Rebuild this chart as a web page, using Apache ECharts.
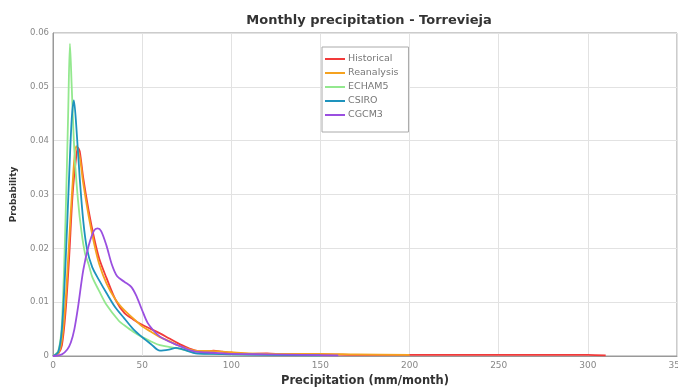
<!DOCTYPE html>
<html>
<head>
<meta charset="utf-8">
<script src="https://cdn.jsdelivr.net/npm/echarts@6/dist/echarts.min.js"></script>
<style>
  html, body { margin: 0; padding: 0; background: #fff; }
  #main { width: 678px; height: 389px; }
</style>
</head>
<body>
<div id="main"></div>
<script>
// series names
var seriesNames = ['Historical', 'Reanalysis', 'ECHAM5', 'CSIRO', 'CGCM3'];

// [precipitation, probability]
var historical = [[0,0],[3,0.0005],[5,0.002],[7,0.008],[9,0.018],[11,0.030],[13,0.037],[14,0.0387],[15,0.038],[17,0.033],[20,0.027],[23,0.022],[26,0.018],[30,0.0145],[35,0.0105],[40,0.008],[45,0.0068],[50,0.0058],[55,0.005],[60,0.0042],[65,0.0033],[70,0.0024],[75,0.0016],[80,0.001],[85,0.0008],[90,0.001],[95,0.0008],[100,0.0006],[110,0.0004],[120,0.0005],[130,0.0003],[150,0.0003],[170,0.0002],[200,0.0002],[230,0.0002],[250,0.0002],[270,0.0002],[300,0.0002],[310,0.0001]];
var reanalysis = [[0,0],[3,0.0005],[5,0.003],[7,0.010],[9,0.021],[11,0.032],[13,0.039],[15,0.037],[17,0.032],[20,0.026],[23,0.021],[26,0.017],[30,0.0135],[35,0.0105],[40,0.0085],[45,0.007],[50,0.0055],[55,0.0045],[60,0.0035],[65,0.0028],[70,0.002],[75,0.0014],[80,0.001],[90,0.0009],[100,0.0007],[110,0.0005],[130,0.0004],[150,0.0004],[170,0.0003],[200,0.0002]];
var echam5 = [[0,0],[3,0.001],[5,0.006],[7,0.025],[8.5,0.045],[9.5,0.058],[10.5,0.05],[12,0.038],[14,0.029],[16,0.023],[18,0.019],[20,0.017],[22,0.0147],[26,0.012],[30,0.0095],[37,0.0065],[40,0.0057],[45,0.0045],[50,0.0035],[55,0.0027],[60,0.002],[65,0.0017],[70,0.0014],[75,0.001],[80,0.0006],[90,0.0004],[100,0.0003],[120,0.0002],[150,0.0001]];
var csiro = [[0,0],[3,0.0008],[5,0.005],[7,0.017],[9,0.033],[10.5,0.044],[11.7,0.0475],[13,0.043],[15,0.033],[17,0.025],[19,0.020],[22,0.0165],[26,0.014],[30,0.0117],[35,0.009],[40,0.007],[45,0.005],[50,0.0035],[55,0.0022],[60,0.001],[65,0.0012],[69,0.0015],[75,0.001],[80,0.0005],[90,0.0004],[100,0.0003],[120,0.0002],[150,0.0001]];
var cgcm3 = [[0,0],[5,0.0003],[8,0.0012],[10,0.0025],[12,0.005],[14,0.009],[17,0.016],[20,0.0205],[23,0.0233],[25,0.0237],[27,0.0232],[30,0.0205],[33,0.017],[36,0.0148],[40,0.0138],[44,0.0128],[47,0.011],[50,0.0085],[53,0.0062],[57,0.0045],[60,0.0036],[65,0.0027],[70,0.002],[75,0.0013],[80,0.0008],[90,0.0006],[100,0.0004],[120,0.0003],[140,0.0002],[160,0.0001]];

var allData = [historical, reanalysis, echam5, csiro, cgcm3];
var colors = ['#f23a3a', '#f5a21f', '#93e88e', '#1e93bd', '#9a4fe0'];

var chart = echarts.init(document.getElementById('main'));

var series = seriesNames.map(function (name, i) {
    return {
        name: name,
        type: 'line',
        data: allData[i],
        smooth: 0.3,
        showSymbol: false,
        lineStyle: { width: 1.8, color: colors[i] },
        itemStyle: { color: colors[i] }
    };
});

chart.setOption({
    backgroundColor: '#ffffff',
    animation: false,
    title: {
        text: 'Monthly precipitation - Torrevieja',
        left: 364,
        textAlign: 'center',
        top: 9,
        textStyle: { fontSize: 13, fontWeight: 'bold', color: '#333', fontFamily: 'DejaVu Sans' }
    },
    legend: {
        orient: 'vertical',
        left: 322,
        top: 47,
        data: seriesNames,
        icon: 'rect',
        itemWidth: 20,
        itemHeight: 2,
        itemGap: 4,
        padding: [7, 10, 12, 3],
        borderColor: '#aaa',
        borderWidth: 1,
        backgroundColor: '#fff',
        textStyle: { fontSize: 9.5, lineHeight: 10, color: '#777', fontFamily: 'DejaVu Sans', padding: [0, 0, 0, -2] }
    },
    grid: {
        left: 53, right: 1, top: 33, bottom: 33,
        outerBoundsMode: 'none',
        show: true, borderColor: '#999', borderWidth: 1
    },
    xAxis: {
        type: 'value',
        min: 0, max: 350, interval: 50,
        name: 'Precipitation (mm/month)',
        nameLocation: 'middle',
        nameGap: 19,
        nameTextStyle: { fontSize: 11.5, fontWeight: 'bold', color: '#333', fontFamily: 'DejaVu Sans' },
        axisLine: { lineStyle: { color: '#999' } },
        axisTick: { show: false },
        axisLabel: { fontSize: 9, color: '#888', margin: 5, fontFamily: 'DejaVu Sans' },
        splitLine: { lineStyle: { color: '#e2e2e2' } }
    },
    yAxis: {
        type: 'value',
        min: 0, max: 0.06, interval: 0.01,
        name: 'Probability',
        nameLocation: 'middle',
        nameGap: 35,
        nameTextStyle: { fontSize: 9, fontWeight: 'bold', color: '#333', fontFamily: 'DejaVu Sans' },
        axisLine: { show: true, lineStyle: { color: '#999' } },
        axisTick: { show: false },
        axisLabel: {
            fontSize: 8.5, color: '#888', margin: 4, fontFamily: 'DejaVu Sans',
            formatter: function (v) { return v === 0 ? '0' : v.toFixed(2); }
        },
        splitLine: { lineStyle: { color: '#e2e2e2' } }
    },
    series: series
});
</script>
</body>
</html>
